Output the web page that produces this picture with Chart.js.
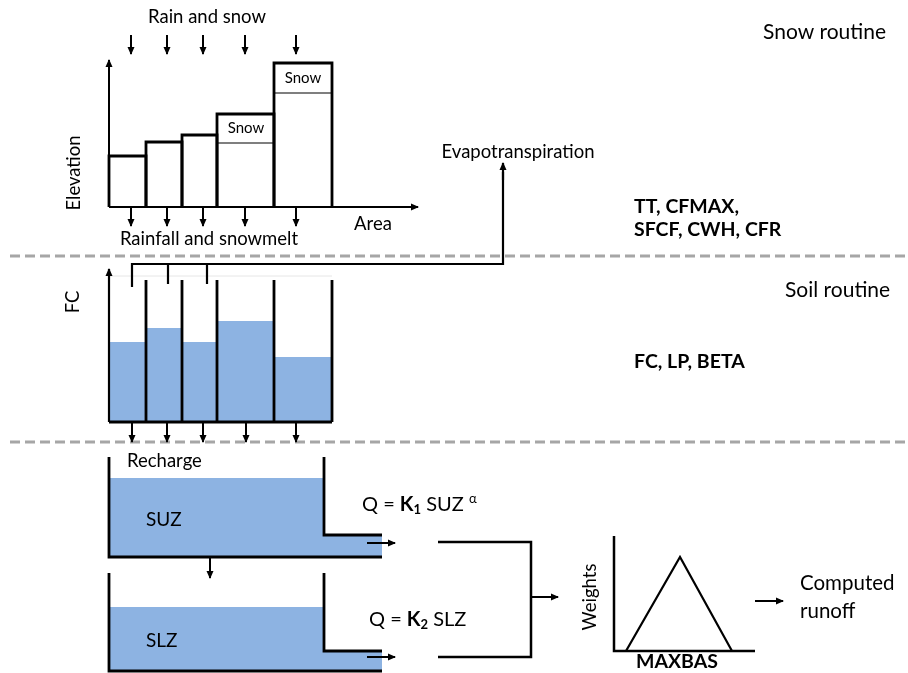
<!DOCTYPE html>
<html>
<head>
<meta charset="utf-8">
<script src="https://cdn.jsdelivr.net/npm/chart.js@4.4.0/dist/chart.umd.min.js"></script>
<style>
  html, body { margin: 0; padding: 0; background: #fff; }
  canvas { display: block; }
</style>
</head>
<body>
<canvas id="hbv" width="908" height="673"></canvas>
<script>
// diagram units: x 0..908 left to right, y 0..673 top to bottom

// snow routine: elevation zones
const zoneEdges = [109, 146, 182, 217, 274, 332];
const zoneTop = [156, 142, 135, 114, 63];
const snowLine = [null, null, null, 143, 93];
const precipX = [131, 167, 203, 245, 296];

// soil routine
const soilMoisture = [342, 328, 342, 321, 357];
const etTaps = [132, 168, 207];

// groundwater
const suzLevel = 478;
const slzLevel = 607;

// routing weights (MAXBAS triangle)
const maxbasX = [626, 680, 732];
const maxbasW = [0, 1, 0];

const BLUE = '#8db3e2';
const GREY = '#a6a6a6';
const datasets = [];

function path(points, opts) {
  datasets.push(Object.assign({
    type: 'line',
    data: points.map(p => ({ x: p[0], y: p[1] })),
    borderColor: '#000',
    borderWidth: 2.5,
    pointRadius: 0,
    fill: false,
    tension: 0,
    order: 1
  }, opts || {}));
}
function arrow(x0, y0, x1, y1, w) {
  path([[x0, y0], [x1, y1]], { borderWidth: w || 2, arrowHead: true, borderCapStyle: 'butt' });
}
function water(points, bottom) {
  path(points, { borderWidth: 0, backgroundColor: BLUE, fill: { value: bottom }, order: 5 });
}

// section separators
path([[10, 256], [908, 256]], { borderColor: GREY, borderWidth: 3, borderDash: [10, 5], order: 3 });
path([[10, 442], [908, 442]], { borderColor: GREY, borderWidth: 3, borderDash: [10, 5], order: 3 });

// --- snow routine ---
const ground = 207;
arrow(109, ground, 109, 60, 2);
arrow(109, ground, 418, ground, 2);
zoneTop.forEach((top, i) => {
  const x0 = zoneEdges[i], x1 = zoneEdges[i + 1];
  path([[x0, ground], [x0, top], [x1, top], [x1, ground]], { borderWidth: 2.8 });
  if (snowLine[i] !== null) path([[x0, snowLine[i]], [x1, snowLine[i]]], { borderWidth: 1.2 });
});
precipX.forEach(x => {
  arrow(x, 35, x, 54);
  arrow(x, ground, x, 226);
});

// --- evapotranspiration ---
path([[etTaps[0], 287], [etTaps[0], 264], [503, 264], [503, 172]], { borderWidth: 2.2 });
arrow(503, 180, 503, 163, 2.2);
etTaps.slice(1).forEach(x => path([[x, 264], [x, 284]], { borderWidth: 2.2 }));

// --- soil routine ---
const soilBottom = 422;
soilMoisture.forEach((lvl, i) => {
  water([[zoneEdges[i], lvl], [zoneEdges[i + 1], lvl]], soilBottom);
});
path([[109, 276], [332, 276]], { borderColor: '#e6e6e6', borderWidth: 1, order: 4 });
arrow(109, soilBottom, 109, 269, 2.2);
path([[109, soilBottom], [332, soilBottom]], { borderWidth: 2.8 });
zoneEdges.slice(1).forEach(x => path([[x, 280], [x, soilBottom]], { borderWidth: 2.8 }));
precipX.forEach((x, i) => arrow(x + [1, 0, 0, 1, 0][i], soilBottom, x + [1, 0, 0, 1, 0][i], 442));

// --- upper zone ---
water([[109, suzLevel], [324, suzLevel], [324, 535], [382, 535]], 557);
path([[109, 457], [109, 557], [382, 557]], { borderWidth: 2.8 });
path([[324, 457], [324, 535], [382, 535]], { borderWidth: 2.8 });
arrow(367, 543, 395, 543, 2);
arrow(210, 557, 210, 578, 2);

// --- lower zone ---
water([[109, slzLevel], [324, slzLevel], [324, 651], [382, 651]], 671);
path([[109, 573], [109, 671], [382, 671]], { borderWidth: 2.8 });
path([[324, 573], [324, 651], [382, 651]], { borderWidth: 2.8 });
arrow(367, 657, 395, 657, 2);

// --- combining outflow ---
path([[438, 542], [531, 542], [531, 657], [438, 657]], { borderWidth: 2.5 });
arrow(531, 597, 558, 597, 2);

// --- MAXBAS weights ---
const wBase = 651, wPeak = 557;
path([[614, 536], [614, wBase], [755, wBase]], { borderWidth: 2.5 });
path(maxbasX.map((x, i) => [x, wBase - maxbasW[i] * (wBase - wPeak)]), { borderWidth: 2.2 });
arrow(755, 601, 783, 601, 2);

// text, placed in diagram units
const labels = [
  { t: 'Rain and snow', x: 207, y: 17, size: 18.5 },
  { t: 'Snow', x: 246, y: 128, size: 15 },
  { t: 'Snow', x: 303, y: 78, size: 15 },
  { t: 'Elevation', x: 74, y: 173, size: 18.5, rot: true },
  { t: 'Area', x: 373, y: 224, size: 18.5 },
  { t: 'Rainfall and snowmelt', x: 209, y: 239, size: 18.5 },
  { t: 'Evapotranspiration', x: 518, y: 152, size: 18.5 },
  { t: 'Snow routine', x: 763, y: 32, size: 21, align: 'left' },
  { t: 'TT, CFMAX,', x: 634, y: 207, size: 19.5, bold: true, align: 'left' },
  { t: 'SFCF, CWH, CFR', x: 634, y: 230, size: 19.5, bold: true, align: 'left' },
  { t: 'FC', x: 73, y: 302, size: 18.5, rot: true },
  { t: 'Soil routine', x: 785, y: 290, size: 21, align: 'left' },
  { t: 'FC, LP, BETA', x: 634, y: 362, size: 19.5, bold: true, align: 'left' },
  { t: 'Recharge', x: 127, y: 461, size: 18.5, align: 'left' },
  { t: 'SUZ', x: 146, y: 520, size: 19, align: 'left' },
  { t: 'SLZ', x: 146, y: 641, size: 19, align: 'left' },
  { t: 'Weights', x: 590, y: 597, size: 18.5, rot: true },
  { t: 'MAXBAS', x: 677, y: 662, size: 19.5, bold: true },
  { t: 'Computed', x: 800, y: 583, size: 20.5, align: 'left' },
  { t: 'runoff', x: 800, y: 611, size: 20.5, align: 'left' }
];
const formulas = [
  { x: 362, y: 505, parts: [['Q = '], ['K', 'b'], ['1', 'bsub'], [' SUZ '], ['\u03b1', 'sup']] },
  { x: 369, y: 620, parts: [['Q = '], ['K', 'b'], ['2', 'bsub'], [' SLZ']] }
];

const FAMILY = 'Lato, "Open Sans", sans-serif';

const diagramText = {
  id: 'diagramText',
  afterDatasetsDraw(chart) {
    const ctx = chart.ctx, xs = chart.scales.x, ys = chart.scales.y;
    // arrow heads at the end of flagged paths
    chart.data.datasets.forEach(ds => {
      if (!ds.arrowHead) return;
      const n = ds.data.length;
      const ax = xs.getPixelForValue(ds.data[n - 2].x), ay = ys.getPixelForValue(ds.data[n - 2].y);
      const bx = xs.getPixelForValue(ds.data[n - 1].x), by = ys.getPixelForValue(ds.data[n - 1].y);
      const a = Math.atan2(by - ay, bx - ax);
      const len = 7, half = 3.5;
      ctx.save();
      ctx.fillStyle = ds.borderColor;
      ctx.translate(bx, by);
      ctx.rotate(a);
      ctx.beginPath();
      ctx.moveTo(1, 0);
      ctx.lineTo(-len, -half);
      ctx.lineTo(-len, half);
      ctx.closePath();
      ctx.fill();
      ctx.restore();
    });
    ctx.save();
    ctx.fillStyle = '#000';
    ctx.textBaseline = 'middle';
    labels.forEach(l => {
      ctx.save();
      ctx.font = (l.bold ? 'bold ' : '') + l.size + 'px ' + FAMILY;
      ctx.textAlign = l.align || 'center';
      ctx.translate(xs.getPixelForValue(l.x), ys.getPixelForValue(l.y));
      if (l.rot) ctx.rotate(-Math.PI / 2);
      ctx.fillText(l.t, 0, 0);
      ctx.restore();
    });
    formulas.forEach(f => {
      let px = xs.getPixelForValue(f.x);
      const py = ys.getPixelForValue(f.y);
      ctx.textAlign = 'left';
      f.parts.forEach(([t, s]) => {
        s = s || '';
        const small = s.indexOf('sub') >= 0 || s === 'sup';
        ctx.font = (s.indexOf('b') === 0 ? 'bold ' : '') + (small ? 13 : 20) + 'px ' + FAMILY;
        const dy = s.indexOf('sub') >= 0 ? 5 : (s === 'sup' ? -6 : 0);
        ctx.fillText(t, px, py + dy);
        px += ctx.measureText(t).width;
      });
    });
    ctx.restore();
  }
};

new Chart(document.getElementById('hbv'), {
  type: 'scatter',
  data: { datasets },
  options: {
    responsive: false,
    animation: false,
    events: [],
    layout: { padding: 0 },
    plugins: { legend: { display: false }, tooltip: { enabled: false } },
    scales: {
      x: { type: 'linear', min: 0, max: 908, display: false },
      y: { type: 'linear', min: 0, max: 673, reverse: true, display: false }
    }
  },
  plugins: [diagramText]
});
</script>
</body>
</html>
